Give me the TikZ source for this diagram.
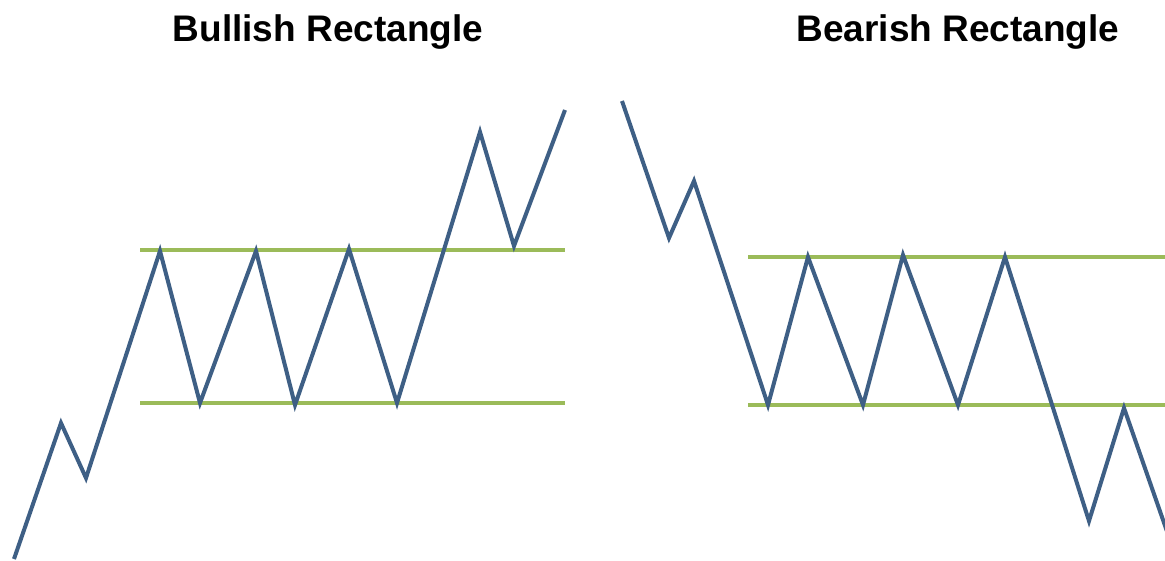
\documentclass[tikz,border=0pt]{standalone}
\usepackage{fontspec}
\setmainfont{Liberation Sans}
\usepackage{xcolor}
\usepackage{tikz}
\usetikzlibrary{positioning}

\definecolor{priceblue}{HTML}{3E5F85}
\definecolor{levelgreen}{HTML}{9BBB59}

\begin{document}
\begin{tikzpicture}[x=1pt, y=-1pt,
    title/.style={font=\fontsize{37}{44}\selectfont\bfseries, inner sep=0pt, text=black},
    price/.style={draw=priceblue, line width=4pt, line join=miter, miter limit=6},
    level/.style={draw=levelgreen, line width=3.6pt}]

    \useasboundingbox[fill=white] (0,0) rectangle (1165,561);

    \node[title] at (328,32) (bulltitle) {Bullish Rectangle};
    \node[title] at (958,32) (beartitle) {Bearish Rectangle};

    % support and resistance
    \draw[level] (140,250) -- (565,250);
    \draw[level] (140,403) -- (565,403);
    \draw[level] (748,257) -- (1165,257);
    \draw[level] (748,405) -- (1165,405);

    % bullish breakout
    \draw[price] (14,559) -- (61,423) -- (86,478) -- (160,251) -- (200,403) -- (256,251)
        -- (295,405) -- (349,249) -- (397,403) -- (480,132) -- (514,246) -- (565,110);

    % bearish breakdown
    \draw[price] (622,101) -- (669,238) -- (694,181) -- (768,405) -- (808,257) -- (863,405)
        -- (903,255) -- (958,405) -- (1005,257) -- (1089,521) -- (1124,408) -- (1170,540);
\end{tikzpicture}
\end{document}
